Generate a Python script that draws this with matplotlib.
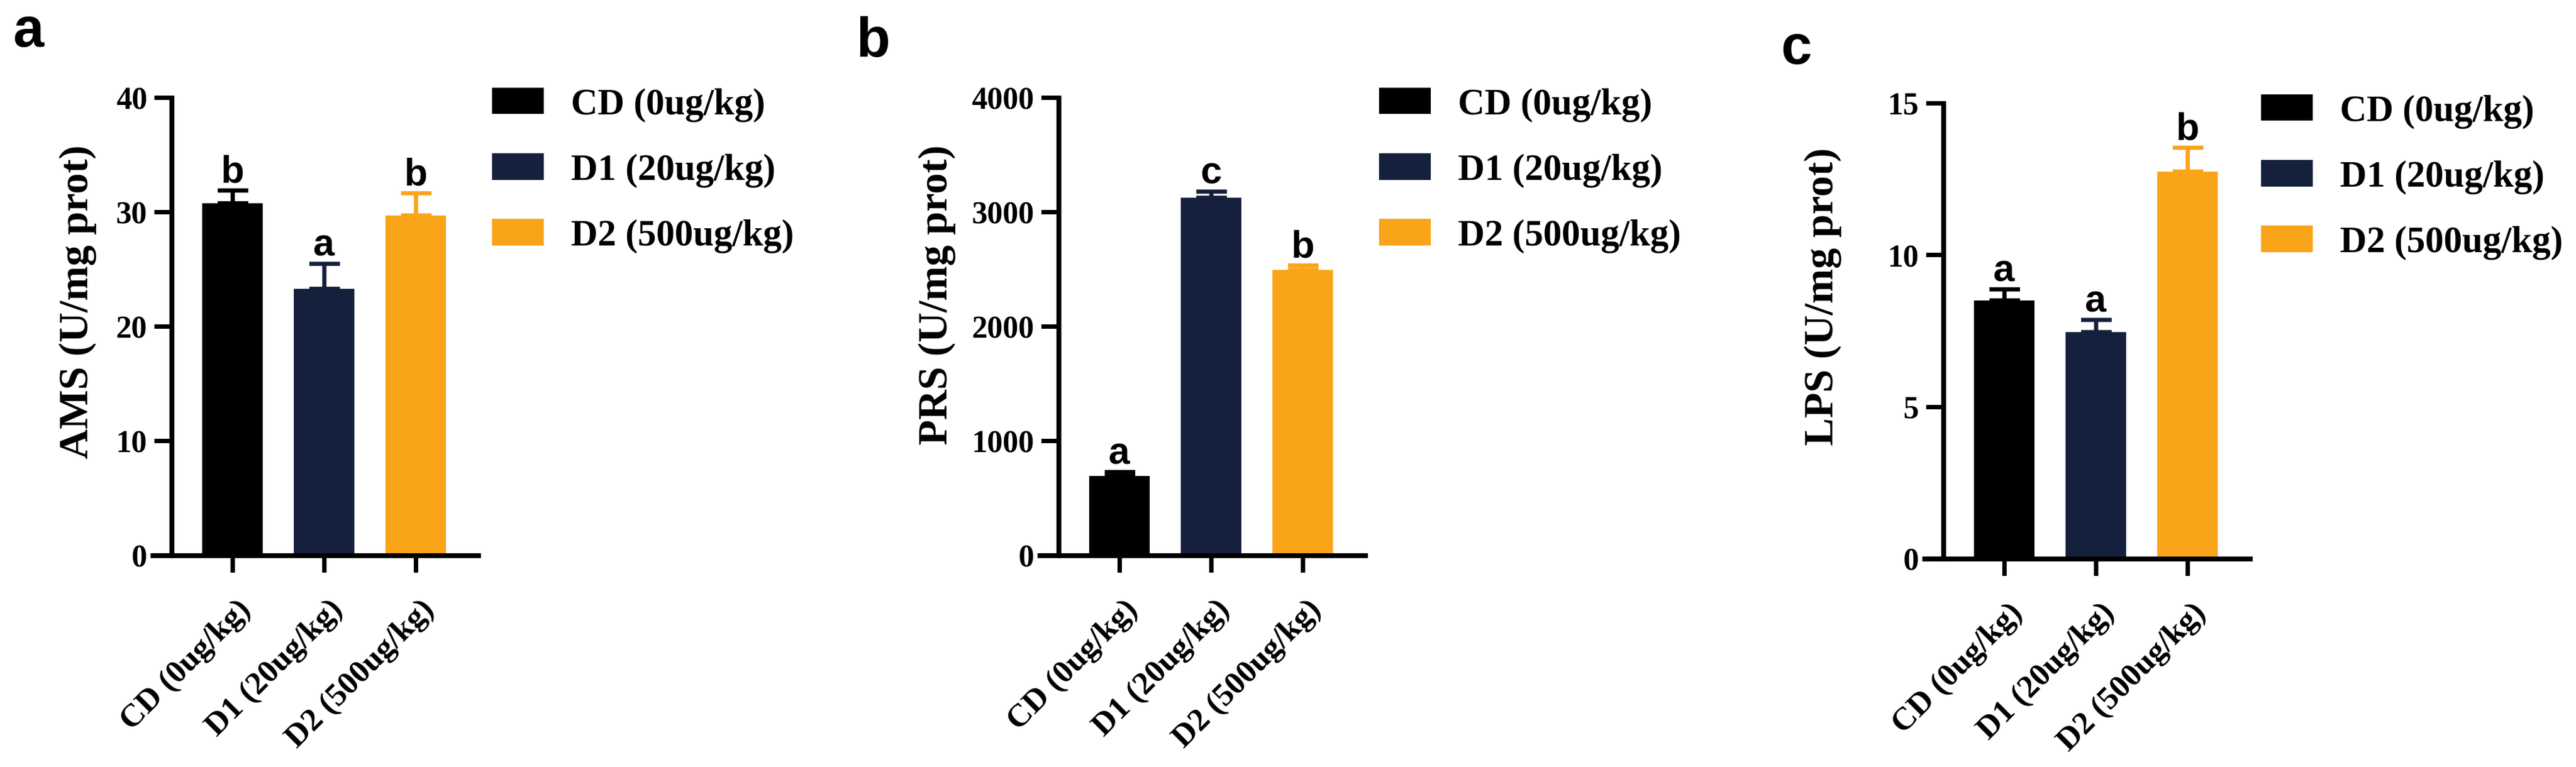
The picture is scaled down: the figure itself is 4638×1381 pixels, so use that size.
import matplotlib
matplotlib.use("Agg")
import matplotlib.pyplot as plt
import matplotlib.transforms as mtransforms
import numpy as np

groups = ["CD (0ug/kg)", "D1 (20ug/kg)", "D2 (500ug/kg)"]
colors = ["#000000", "#14203C", "#FAA41A"]

ams_mean = [30.8, 23.3, 29.7]
ams_err = [1.1, 2.2, 1.95]
ams_sig = ["b", "a", "b"]

prs_mean = [692, 3125, 2493]
prs_err = [34, 55, 43]
prs_sig = ["a", "c", "b"]

lps_mean = [8.5, 7.46, 12.75]
lps_err = [0.37, 0.4, 0.79]
lps_sig = ["a", "a", "b"]

W, H = 4638, 1381
DPI = 300
SERIF = "Liberation Serif"
SANS = "Liberation Sans"


def fx(px):
    return px / W


def fy(py):
    return 1 - py / H


fig = plt.figure(figsize=(W / DPI, H / DPI), dpi=DPI)

# letter, ylabel, means, errs, sig, ymax, yticks,
# axes left px, top px, bottom px, legend x px, legend top px, letter pos, ylabel centre
panels = [
    ("a", "AMS (U/mg prot)", ams_mean, ams_err, ams_sig, 40, [0, 10, 20, 30, 40],
     275, 176, 1000, 888, 158, (23, 84), (140, 544)),
    ("b", "PRS (U/mg prot)", prs_mean, prs_err, prs_sig, 4000, [0, 1000, 2000, 3000, 4000],
     1872, 176, 1000, 2485, 158, (1541, 102), (1687, 531)),
    ("c", "LPS (U/mg prot)", lps_mean, lps_err, lps_sig, 15, [0, 5, 10, 15],
     3465, 186, 1006, 4073, 170, (3206, 115), (3282, 534)),
]

x = np.arange(len(groups))
xlim = (-0.87, 2.68)
spine_x = -0.665
unit_px = 165
lw = 2.1

for (letter, ylab, means, errs, sig, ymax, yticks,
     left, top, bottom, leg_x, leg_top, lpos, ylpos) in panels:
    width_px = (xlim[1] - xlim[0]) * unit_px
    ax = fig.add_axes([fx(left), fy(bottom), width_px / W, (bottom - top) / H])

    # spines first: moving a spine resets the tick labels
    for s in ["top", "right"]:
        ax.spines[s].set_visible(False)
    ax.spines["left"].set_position(("data", spine_x))
    ax.spines["left"].set_linewidth(lw)
    ax.spines["bottom"].set_linewidth(lw)

    ax.bar(x, means, width=0.66, color=colors, edgecolor="none", zorder=2)
    for i in range(len(x)):
        ax.errorbar(x[i], means[i], yerr=[[0], [errs[i]]], fmt="none",
                    ecolor=colors[i], elinewidth=1.8, capsize=6.6,
                    capthick=1.8, zorder=3, clip_on=False)
        ax.annotate(sig[i], (x[i], means[i] + errs[i]), xytext=(0, 3.5),
                    textcoords="offset points", ha="center", va="baseline",
                    fontsize=16.5, fontweight="bold", family=SANS)

    ax.set_xlim(*xlim)
    ax.set_ylim(0, ymax)
    ax.tick_params(axis="both", width=1.9, length=7.5, direction="out")
    ax.tick_params(axis="y", pad=3)
    ax.tick_params(axis="x", pad=9.5)
    ax.set_yticks(yticks)
    ax.set_yticklabels([str(t) for t in yticks], fontsize=13.5,
                       fontweight="bold", family=SERIF)
    ax.set_xticks(x)
    ax.set_xticklabels(groups, rotation=45, ha="right", va="top",
                       rotation_mode="anchor", fontsize=14,
                       fontweight="bold", family=SERIF)
    shift = mtransforms.ScaledTranslation(7 / DPI, 0, fig.dpi_scale_trans)
    for t in ax.get_xticklabels():
        t.set_transform(t.get_transform() + shift)

    ax.set_ylabel(ylab, fontsize=18, fontweight="bold", family=SERIF, va="center")
    ax.yaxis.set_label_coords((ylpos[0] - left) / width_px,
                              (bottom - ylpos[1]) / (bottom - top))

    handles = [plt.Rectangle((0, 0), 1, 1, color=c) for c in colors]
    ax.legend(handles, groups, loc="upper left",
              bbox_to_anchor=(fx(leg_x), fy(leg_top)),
              bbox_transform=fig.transFigure, frameon=False,
              borderpad=0, borderaxespad=0, handlelength=1.33,
              handleheight=0.63, handletextpad=0.77, labelspacing=0.85,
              prop={"family": SERIF, "weight": "bold", "size": 16})

    fig.text(fx(lpos[0]), fy(lpos[1]), letter, fontsize=24, fontweight="bold",
             family=SANS, ha="left", va="baseline")

fig.savefig("out.png", dpi=DPI)
plt.close(fig)
